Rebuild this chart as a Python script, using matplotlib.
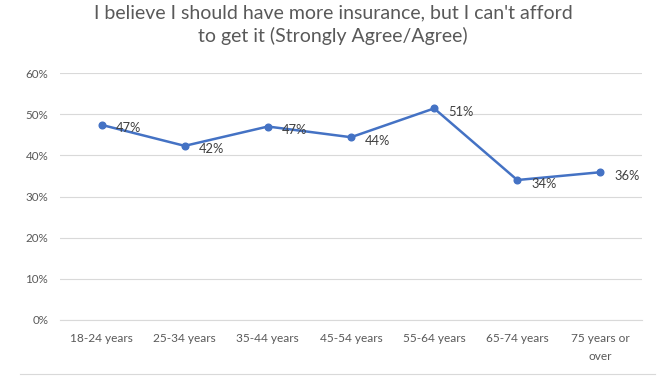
import matplotlib
matplotlib.use("Agg")
import matplotlib.pyplot as plt
from matplotlib.lines import Line2D
from matplotlib.ticker import FuncFormatter, MultipleLocator

plt.rcParams['font.family'] = ['Lato', 'DejaVu Sans']

age_groups = ["18-24 years", "25-34 years", "35-44 years", "45-54 years",
              "55-64 years", "65-74 years", "75 years or\nover"]
agree_share = [47.4, 42.3, 47.0, 44.4, 51.4, 34.0, 35.9]
title = "I believe I should have more insurance, but I can't afford\nto get it (Strongly Agree/Agree)"

line_color = "#4472C4"
text_gray = "#595959"
grid_gray = "#D9D9D9"

W, H = 661, 379
fig = plt.figure(figsize=(W / 100, H / 100), dpi=100)
ax = fig.add_axes([60 / W, 1 - 320 / H, 582 / W, 247 / H])

x = list(range(len(age_groups)))
ax.plot(x, agree_share, color=line_color, lw=1.8, marker="o", ms=4.8,
        solid_joinstyle="round", zorder=3)

for xi, v in zip(x, agree_share):
    ax.annotate(f"{round(v):.0f}%", (xi, v), xytext=(10, -2.5),
                textcoords="offset points", ha="left", va="center",
                fontsize=9.3, color="#404040")

ax.set_xlim(-0.5, len(age_groups) - 0.5)
ax.set_ylim(0, 60)
ax.yaxis.set_major_locator(MultipleLocator(10))
ax.yaxis.set_major_formatter(FuncFormatter(lambda v, _: f"{v:.0f}%"))
ax.set_xticks(x)
ax.set_xticklabels(age_groups, ha="center", linespacing=1.85)
ax.tick_params(axis="both", length=0, colors=text_gray)
ax.tick_params(axis="x", pad=9, labelsize=8.6)
ax.tick_params(axis="y", pad=8.5, labelsize=8.4)

ax.grid(axis="y", color=grid_gray, lw=0.8)
ax.set_axisbelow(True)
for side in ("top", "right", "left"):
    ax.spines[side].set_visible(False)
ax.spines["bottom"].set_color(grid_gray)
ax.spines["bottom"].set_linewidth(0.8)

fig.text(333 / W, 1 - 4 / H, title, ha="center", va="top", fontsize=14,
         color=text_gray, linespacing=1.4, multialignment="center")

fig.add_artist(Line2D([20 / W, 655 / W], [1 - 374 / H] * 2, color=grid_gray,
                      lw=0.8, transform=fig.transFigure))

fig.savefig("out.png", dpi=100, facecolor="white")
